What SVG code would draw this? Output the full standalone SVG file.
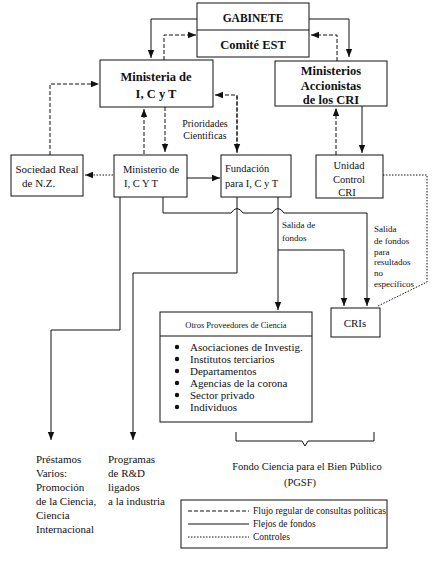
<svg xmlns="http://www.w3.org/2000/svg" width="436" height="565" viewBox="0 0 436 565" font-family="'Liberation Serif', 'DejaVu Serif', serif">
<style>
text{font-family:"Liberation Serif","DejaVu Serif",serif;fill:#111}
.b{font-weight:bold;font-size:12.5px;text-anchor:middle}
.m{font-size:10.5px}
.s{font-size:9px}
.box{fill:#fff;stroke:#111;stroke-width:1}
.c{fill:none;stroke:#111;stroke-width:1}
.d{stroke-dasharray:4,2}
.o{stroke-dasharray:1.5,1.5}
</style>
<defs>
<marker id="a" markerUnits="userSpaceOnUse" markerWidth="8" markerHeight="8" viewBox="0 0 8 8" refX="8" refY="4" orient="auto"><path d="M0,0.8 L8,4 L0,7.2 z" fill="#111"/></marker>
</defs>
<rect width="436" height="565" fill="#fff"/>
<g id="connectors">
<path class="c" d="M197,19 H151 V58" marker-end="url(#a)"/>
<path class="c d" d="M164,60 V35 H196" marker-end="url(#a)"/>
<path class="c" d="M309,19 H349 V57" marker-end="url(#a)"/>
<path class="c d" d="M337,61 V35 H311" marker-end="url(#a)"/>
<path class="c d" d="M237,153 V95 H215" marker-end="url(#a)"/>
<path class="c d" d="M237,96 V152" marker-end="url(#a)"/>
<path class="c d" d="M144,154 V109" marker-end="url(#a)"/>
<path class="c d" d="M165,107 V152" marker-end="url(#a)"/>
<path class="c d" d="M50,155 V84 H99" marker-end="url(#a)"/>
<path class="c o" d="M113,175 H85" marker-end="url(#a)"/>
<path class="c" d="M187,178 H220" marker-end="url(#a)"/>
<path class="c d" d="M336,155 V108" marker-end="url(#a)"/>
<path class="c" d="M362,106 V153" marker-end="url(#a)"/>
<path class="c o" d="M383,175 H427 V282 L378,306"/>
<path class="c" d="M163,197 V213 H231 Q237,204 243,213 H272 Q278,204 284,213 H367 V306" marker-end="url(#a)"/>
<path class="c" d="M278,197 V310" marker-end="url(#a)"/>
<path class="c" d="M278,250 H344 V306" marker-end="url(#a)"/>
<path class="c" d="M237,197 V273 H133 V440" marker-end="url(#a)"/>
<path class="c" d="M120,197 V330 H51 V440" marker-end="url(#a)"/>
<path class="c" d="M236,432 V441 H302 L305,446 L308,441 H374 V432"/>
</g>
<g id="gabinete">
<rect class="box" x="197" y="3" width="112" height="54"/>
<line class="c" x1="197" y1="30" x2="309" y2="30"/>
<text class="b" x="253" y="22" style="font-size:11.5px">GABINETE</text>
<text class="b" x="253" y="49">Comité EST</text>
</g>
<g id="ministerio-top">
<rect class="box" x="100" y="60" width="113" height="47"/>
<text class="b" x="156" y="81">Ministeria de</text>
<text class="b" x="156" y="98">I, C y T</text>
</g>
<g id="ministerios-accionistas">
<rect class="box" x="275" y="61" width="112" height="45"/>
<text class="b" x="331" y="75">Ministerios</text>
<text class="b" x="331" y="90">Accionistas</text>
<text class="b" x="331" y="104">de los CRI</text>
</g>
<g id="sociedad-real">
<rect class="box" x="11" y="155" width="72" height="41"/>
<text class="m" x="47" y="173" text-anchor="middle" style="font-size:11px">Sociedad Real</text>
<text class="m" x="22" y="187" style="font-size:11px">de N.Z.</text>
</g>
<g id="ministerio-bottom">
<rect class="box" x="114" y="155" width="73" height="42"/>
<text class="m" x="123" y="173">Ministerio de</text>
<text class="m" x="124" y="187">I, C Y T</text>
</g>
<g id="fundacion">
<rect class="box" x="221" y="155" width="70" height="42"/>
<text class="m" x="225" y="172">Fundación</text>
<text class="m" x="225" y="187">para I, C y T</text>
</g>
<g id="prioridades">
<text class="m" x="205" y="127" text-anchor="middle" style="font-size:10px">Prioridades</text>
<text class="m" x="205" y="139" text-anchor="middle" style="font-size:10px">Cientificas</text>
</g>
<g id="unidad-control">
<rect class="box" x="316" y="155" width="67" height="43"/>
<text class="m" x="349" y="169" text-anchor="middle">Unidad</text>
<text class="m" x="349" y="183" text-anchor="middle">Control</text>
<text class="m" x="347" y="196" text-anchor="middle">CRI</text>
</g>
<g id="salida-labels">
<text class="s" x="282" y="228">Salida de</text>
<text class="s" x="282" y="241">fondos</text>
<text class="s" x="374" y="232">Salida</text>
<text class="s" x="374" y="244">de fondos</text>
<text class="s" x="374" y="255">para</text>
<text class="s" x="374" y="265">resultados</text>
<text class="s" x="374" y="276">no</text>
<text class="s" x="374" y="287">específicos</text>
</g>
<g id="cris">
<rect class="box" x="331" y="308" width="49" height="29"/>
<text class="m" x="355" y="327" text-anchor="middle" style="font-size:11px">CRIs</text>
</g>
<g id="otros-proveedores">
<rect class="box" x="160" y="312" width="152" height="110"/>
<line class="c" x1="160" y1="336" x2="312" y2="336"/>
<text x="236" y="328" text-anchor="middle" style="font-size:8.5px">Otros Proveedores de Ciencia</text>
<g style="font-size:11px">
<circle cx="177" cy="347" r="2.2" fill="#111"/><text x="190" y="351">Asociaciones de Investig.</text>
<circle cx="177" cy="359" r="2.2" fill="#111"/><text x="190" y="363">Institutos terciarios</text>
<circle cx="177" cy="371" r="2.2" fill="#111"/><text x="190" y="375">Departamentos</text>
<circle cx="177" cy="383" r="2.2" fill="#111"/><text x="190" y="387">Agencias de la corona</text>
<circle cx="177" cy="395" r="2.2" fill="#111"/><text x="190" y="399">Sector privado</text>
<circle cx="177" cy="407" r="2.2" fill="#111"/><text x="190" y="411">Individuos</text>
</g>
</g>
<g id="prestamos" style="font-size:11px">
<text x="36" y="463">Préstamos</text>
<text x="36" y="477">Varios:</text>
<text x="36" y="491">Promoción</text>
<text x="36" y="505">de la Ciencia,</text>
<text x="36" y="519">Ciencia</text>
<text x="36" y="533">Internacional</text>
</g>
<g id="programas" style="font-size:11px">
<text x="108" y="463">Programas</text>
<text x="108" y="477">de R&amp;D</text>
<text x="108" y="491">ligados</text>
<text x="108" y="505">a la industria</text>
</g>
<g id="pgsf" style="font-size:10.5px">
<text x="307" y="470" text-anchor="middle">Fondo Ciencia para el Bien Público</text>
<text x="300" y="486" text-anchor="middle">(PGSF)</text>
</g>
<g id="legend">
<rect class="box" x="181" y="500" width="206" height="48"/>
<line class="c d" x1="188" y1="511" x2="249" y2="511"/>
<line class="c" x1="188" y1="524" x2="249" y2="524"/>
<line class="c o" x1="188" y1="537" x2="249" y2="537"/>
<text x="253" y="514" style="font-size:9.5px">Flujo regular de consultas políticas</text>
<text x="253" y="527" style="font-size:9.5px">Flejos de fondos</text>
<text x="253" y="540" style="font-size:9.5px">Controles</text>
</g>
</svg>
